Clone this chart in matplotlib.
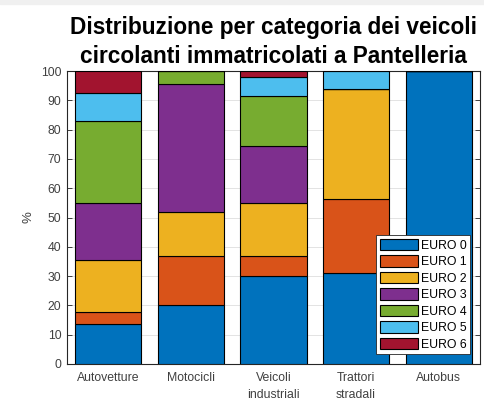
import numpy as np
import matplotlib
matplotlib.use("Agg")
import matplotlib.pyplot as plt
from matplotlib.patches import Rectangle

categories = ["Autovetture", "Motocicli", "Veicoli\nindustriali", "Trattori\nstradali", "Autobus"]
classes = ["EURO 0", "EURO 1", "EURO 2", "EURO 3", "EURO 4", "EURO 5", "EURO 6"]

# percentuali per classe euro (una lista per classe, un valore per categoria)
euro0 = [13.7, 20.0, 30.1, 31.2, 100.0]
euro1 = [3.9, 16.8, 6.7, 25.2, 0.0]
euro2 = [17.8, 15.0, 18.3, 37.5, 0.0]
euro3 = [19.7, 43.7, 19.3, 0.0, 0.0]
euro4 = [27.8, 4.5, 17.1, 0.0, 0.0]
euro5 = [9.6, 0.0, 6.3, 6.1, 0.0]
euro6 = [7.5, 0.0, 2.2, 0.0, 0.0]

series = [euro0, euro1, euro2, euro3, euro4, euro5, euro6]
colors = ['#0072BD', '#D95319', '#EDB120', '#7E2F8E', '#77AC30', '#4DBEEE', '#A2142F']

plt.rcParams['font.family'] = ['Liberation Sans', 'DejaVu Sans']
plt.rcParams['xtick.direction'] = 'in'
plt.rcParams['ytick.direction'] = 'in'

fig = plt.figure(figsize=(4.84, 4.0), dpi=100)
fig.patches.append(Rectangle((0, 0.99), 1, 0.01, transform=fig.transFigure,
                             color='#f0f0f0', zorder=0))
ax = fig.add_axes([67 / 484, 36 / 400, 413 / 484, 293 / 400])

x = np.arange(1, len(categories) + 1)
bottom = np.zeros(len(categories))
for vals, col, lab in zip(series, colors, classes):
    ax.bar(x, vals, width=0.8, bottom=bottom, color=col, edgecolor='black',
           linewidth=0.8, label=lab, zorder=3)
    bottom += np.array(vals)

ax.set_xlim(0.5, 5.5)
ax.set_ylim(0, 100)
ax.set_yticks(np.arange(0, 101, 10))
ax.set_xticks(x)
ax.set_xticklabels(categories, linespacing=1.5)

ax.grid(True, axis='y', color='#e3e3e3', linewidth=0.7, zorder=0)
ax.set_axisbelow(True)

for s in ax.spines.values():
    s.set_color('#262626')
    s.set_linewidth(0.8)

ax.tick_params(axis='y', labelsize=8.8, labelcolor='#404040', color='#262626',
               length=3.5, width=0.6, right=True, pad=4)
ax.tick_params(axis='x', labelsize=8.8, labelcolor='#404040', color='#262626',
               length=3.5, width=0.6, top=True, pad=6)

ax.set_ylabel("%", fontsize=9.5, color='#404040', labelpad=5)

ax.set_title("Distribuzione per categoria dei veicoli\ncircolanti immatricolati a Pantelleria",
             fontsize=16.3, fontweight='bold', linespacing=1.3, pad=6)

leg = ax.legend(loc='lower right', fontsize=8.8, handlelength=3.1, handleheight=1.05,
                handletextpad=0.25, labelspacing=0.3, borderpad=0.3,
                borderaxespad=0.8, fancybox=False, framealpha=1,
                edgecolor='#262626')
leg.get_frame().set_linewidth(0.6)
leg.set_zorder(5)

fig.savefig("out.png", dpi=100)
